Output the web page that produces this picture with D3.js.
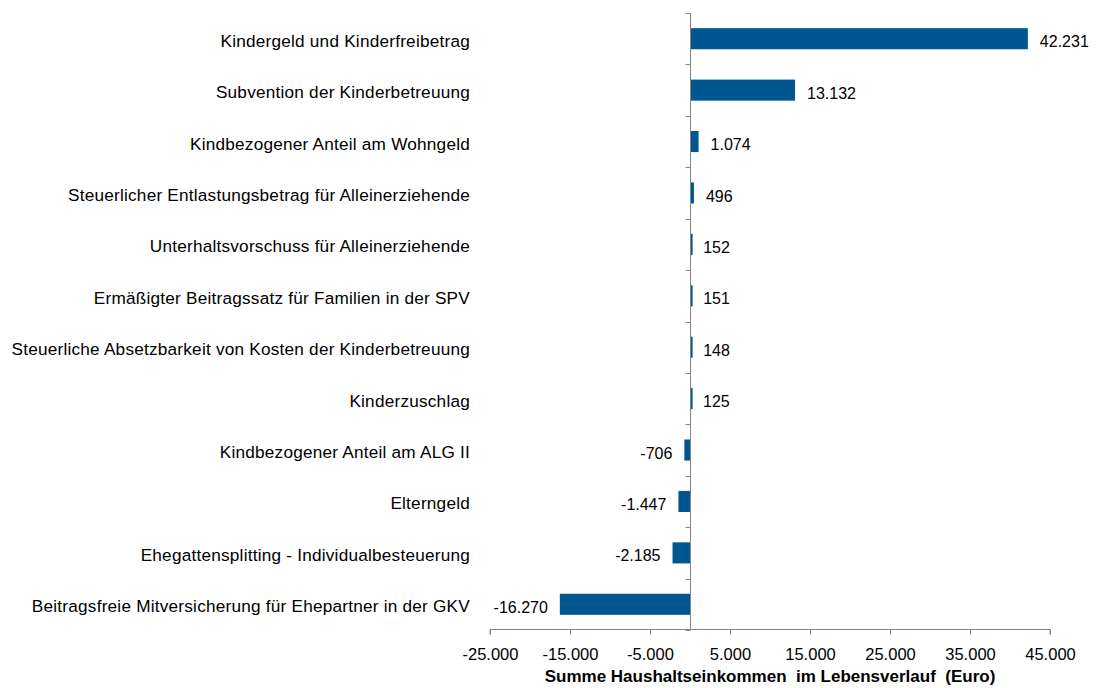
<!DOCTYPE html>
<html>
<head>
<meta charset="utf-8">
<script src="https://cdn.jsdelivr.net/npm/d3@7"></script>
<style>
  html, body { margin: 0; padding: 0; background: #fff; }
  svg { display: block; font-family: "Liberation Sans", Arial, sans-serif; }
</style>
</head>
<body>
<svg id="chart" width="1100" height="688"></svg>
<script>
const categories = [
  "Kindergeld und Kinderfreibetrag",
  "Subvention der Kinderbetreuung",
  "Kindbezogener Anteil am Wohngeld",
  "Steuerlicher Entlastungsbetrag für Alleinerziehende",
  "Unterhaltsvorschuss für Alleinerziehende",
  "Ermäßigter Beitragssatz für Familien in der SPV",
  "Steuerliche Absetzbarkeit von Kosten der Kinderbetreuung",
  "Kinderzuschlag",
  "Kindbezogener Anteil am ALG II",
  "Elterngeld",
  "Ehegattensplitting - Individualbesteuerung",
  "Beitragsfreie Mitversicherung für Ehepartner in der GKV"
];
const values = [42231, 13132, 1074, 496, 152, 151, 148, 125, -706, -1447, -2185, -16270];
const xTicks = [-25000, -15000, -5000, 5000, 15000, 25000, 35000, 45000];
const xDomain = [-25000, 45000];
const axisTitle = "Summe Haushaltseinkommen  im Lebensverlauf  (Euro)";

(function () {
const svg = d3.select("#chart");
const mLeft = 490, mRight = 1050, mTop = 13, mBottom = 630;
const barColor = "#00578f";
const axisColor = "#868686";

const loc = d3.formatLocale({decimal: ",", thousands: ".", grouping: [3], currency: ["", " €"], minus: "-"});
const fmt = loc.format(",.0f");

const x = d3.scaleLinear().domain(xDomain).range([mLeft, mRight]);
const y = d3.scaleBand().domain(categories).range([mTop, mBottom]).paddingInner(0.59).paddingOuter(0.295);

const data = categories.map((c, i) => ({cat: c, v: values[i]}));

// bars
svg.append("g").selectAll("rect").data(data).join("rect")
  .attr("x", d => x(Math.min(0, d.v)))
  .attr("width", d => Math.max(2.6, Math.abs(x(d.v) - x(0))))
  .attr("y", d => y(d.cat))
  .attr("height", y.bandwidth())
  .attr("fill", barColor);

// x axis
const xAxis = d3.axisBottom(x).tickValues(xTicks).tickFormat(fmt).tickSize(5).tickPadding(14).tickSizeOuter(5);
const gx = svg.append("g").attr("transform", `translate(0,${mBottom - 0.5})`).call(xAxis);
gx.select(".domain").attr("stroke", axisColor).attr("d", `M${mLeft},5V0H${mRight}V5`);
gx.selectAll(".tick line").attr("stroke", axisColor);
gx.selectAll(".tick text").attr("fill", "#000").style("font-size", "16.5px");

// vertical axis at zero
const x0 = Math.round(x(0)) + 0.5;
svg.append("line").attr("x1", x0).attr("x2", x0).attr("y1", mTop).attr("y2", mBottom)
  .attr("stroke", axisColor);
const bounds = categories.map(c => y(c) - y.step() * y.paddingInner() / 2).concat([mBottom]);
svg.append("g").selectAll("line").data(bounds).join("line")
  .attr("x1", x0 - 5).attr("x2", x0)
  .attr("y1", d => Math.round(d) + 0.5).attr("y2", d => Math.round(d) + 0.5)
  .attr("stroke", axisColor);

// category labels
svg.append("g").selectAll("text").data(data).join("text")
  .attr("x", 470)
  .attr("y", d => y(d.cat) + y.bandwidth() / 2 + 2)
  .attr("dy", "0.35em")
  .attr("text-anchor", "end")
  .style("font-size", "17.2px")
  .style("letter-spacing", "0.22px")
  .attr("fill", "#000")
  .text(d => d.cat);

// value labels
svg.append("g").selectAll("text").data(data).join("text")
  .attr("x", d => d.v >= 0 ? x(d.v) + 12 : x(d.v) - 12)
  .attr("y", d => y(d.cat) + y.bandwidth() / 2 + 3)
  .attr("dy", "0.35em")
  .attr("text-anchor", d => d.v >= 0 ? "start" : "end")
  .style("font-size", "16px")
  .attr("fill", "#000")
  .text(d => fmt(d.v));

// axis title
svg.append("text")
  .attr("x", (mLeft + mRight) / 2)
  .attr("y", 682)
  .attr("text-anchor", "middle")
  .style("font-size", "17px")
  .style("font-weight", "bold")
  .style("white-space", "pre")
  .attr("fill", "#000")
  .text(axisTitle);
})();
</script>
</body>
</html>
